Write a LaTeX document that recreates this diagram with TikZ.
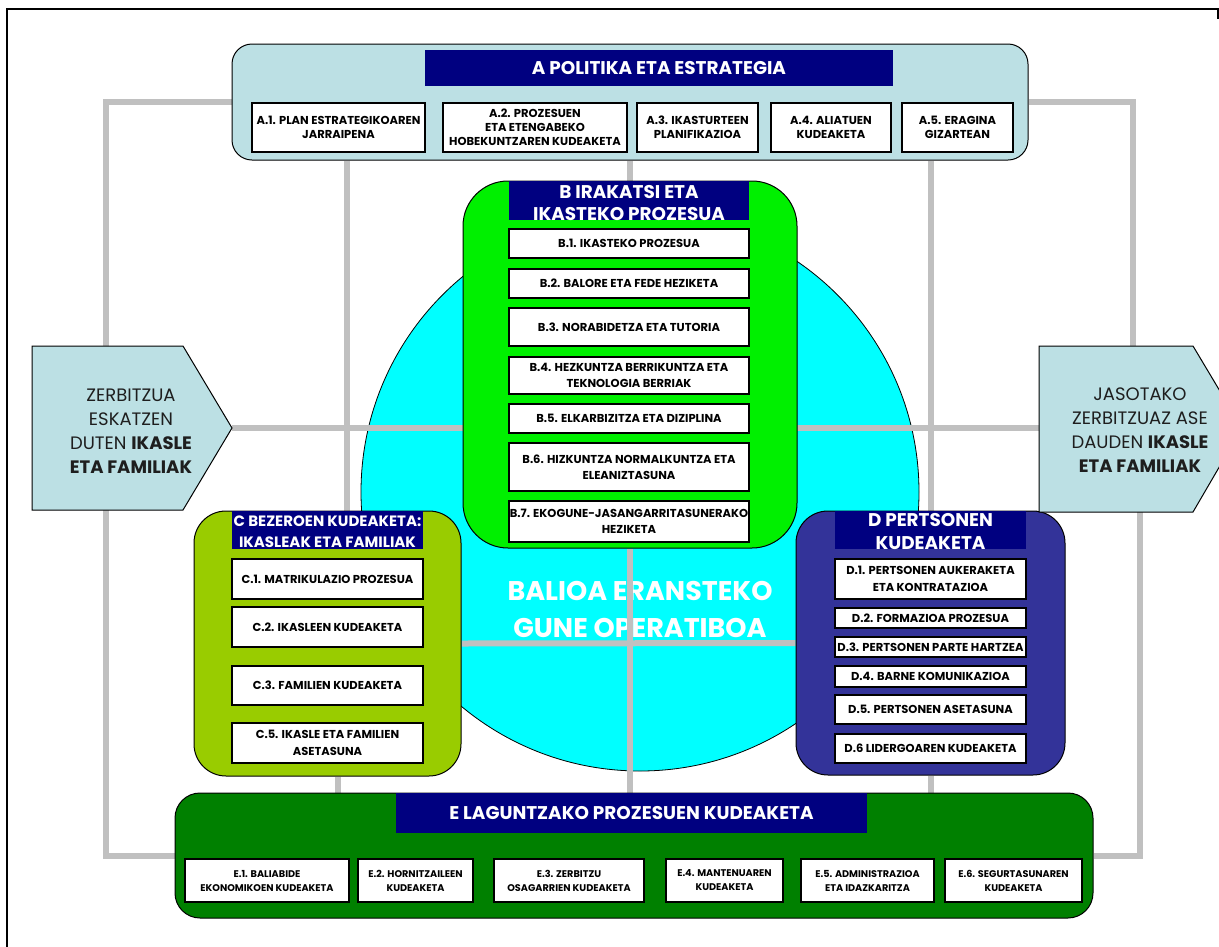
\documentclass[tikz,border=0pt]{standalone}
\usepackage{fontspec}
\setmainfont{Poppins}
\usetikzlibrary{positioning}

\definecolor{barblue}{RGB}{0,0,128}
\definecolor{apanel}{RGB}{188,224,228}
\definecolor{bpanel}{RGB}{0,240,0}
\definecolor{zonecyan}{RGB}{0,255,255}
\definecolor{cpanel}{RGB}{153,204,0}
\definecolor{dpanel}{RGB}{51,51,153}
\definecolor{epanel}{RGB}{0,128,0}
\definecolor{linkgrey}{RGB}{192,192,192}
\definecolor{inkgrey}{RGB}{30,30,30}

\newcommand\titlefont{\bfseries\fontsize{18.4}{22.5}\selectfont}
\newcommand\ctitlefont{\bfseries\fontsize{15}{21}\selectfont}
\newcommand\itemfont{\bfseries\fontsize{11.5}{16.5}\selectfont}
\newcommand\aitemfont{\bfseries\fontsize{11.5}{14}\selectfont}
\newcommand\eitemfont{\bfseries\fontsize{9.7}{14}\selectfont}
\newcommand\sidefont{\fontsize{18}{24}\selectfont}
\newcommand\zonefont{\bfseries\fontsize{27}{37}\selectfont}

\pgfdeclarelayer{back}
\pgfdeclarelayer{lines}
\pgfsetlayers{back,lines,main}

\begin{document}
\begin{tikzpicture}[x=1pt, y=-1pt,
        panel/.style={draw=black, line width=1pt, rounded corners=#1, inner sep=0},
        panel/.default=20,
        bar/.style={fill=barblue, inner sep=0},
        bartext/.style={text=white, font=\titlefont, align=center, inner sep=0},
        item/.style={draw=black, fill=white, line width=1.2pt, inner sep=0, align=center, font=\itemfont},
        sidebox/.style={fill=apanel, draw=black, line width=1pt},
        link/.style={draw=linkgrey, line width=6pt}
    ]
    \clip (0,0) rectangle (1219,946);
    % frame
    \draw[line width=2pt] (7,950) -- (7,9) -- (1218,9) -- (1218,19);

    % A
    \node[panel=20, fill=apanel, minimum width=796, minimum height=116] (Apanel) at (630,102) {};
    \node[bar, minimum width=468, minimum height=36] (Abar) at (659,68) {};
    \node[bartext] (Atext) at (Abar) {A POLITIKA ETA ESTRATEGIA};
    \node[item, font=\aitemfont, minimum width=173, minimum height=49] (A1) at (338.5,127.5) {A.1. PLAN ESTRATEGIKOAREN\\JARRAIPENA};
    \node[item, font=\aitemfont, minimum width=184, minimum height=49] (A2) at (535,127.5) {A.2. PROZESUEN\\ETA ETENGABEKO\\HOBEKUNTZAREN KUDEAKETA};
    \node[item, font=\aitemfont, minimum width=121, minimum height=49] (A3) at (697.5,127.5) {A.3. IKASTURTEEN\\PLANIFIKAZIOA};
    \node[item, font=\aitemfont, minimum width=120, minimum height=49] (A4) at (831,127.5) {A.4. ALIATUEN\\KUDEAKETA};
    \node[item, font=\aitemfont, minimum width=111, minimum height=49] (A5) at (957.5,127.5) {A.5. ERAGINA\\GIZARTEAN};

    % B
    \node[panel=45, fill=bpanel, minimum width=334, minimum height=367] (Bpanel) at (630,364.5) {};
    \node[bar, minimum width=240, minimum height=39] (Bbar) at (629,200.5) {};
    \node[bartext] (Btext) at (629,203) {B IRAKATSI ETA\\IKASTEKO PROZESUA};
    \node[item, minimum width=240, minimum height=29] (B1) at (629,243.5) {B.1. IKASTEKO PROZESUA};
    \node[item, minimum width=240, minimum height=29] (B2) at (629,283.5) {B.2. BALORE ETA FEDE HEZIKETA};
    \node[item, minimum width=240, minimum height=38] (B3) at (629,327) {B.3. NORABIDETZA ETA TUTORIA};
    \node[item, minimum width=240, minimum height=37] (B4) at (629,375.5) {B.4. HEZKUNTZA BERRIKUNTZA ETA\\TEKNOLOGIA BERRIAK};
    \node[item, minimum width=240, minimum height=29] (B5) at (629,418.5) {B.5. ELKARBIZITZA ETA DIZIPLINA};
    \node[item, minimum width=240, minimum height=48] (B6) at (629,467) {B.6. HIZKUNTZA NORMALKUNTZA ETA\\ELEANIZTASUNA};
    \node[item, minimum width=240, minimum height=41] (B7) at (629,521.5) {B.7. EKOGUNE-JASANGARRITASUNERAKO\\HEZIKETA};

    % C
    \node[panel=32, fill=cpanel, minimum width=267, minimum height=265] (Cpanel) at (327.5,643.5) {};
    \node[bar, minimum width=191, minimum height=38] (Cbar) at (327.5,530) {};
    \node[bartext, font=\ctitlefont] (Ctext) at (327.5,531.5) {C BEZEROEN KUDEAKETA:\\IKASLEAK ETA FAMILIAK};
    \node[item, minimum width=191, minimum height=40] (C1) at (327.5,579) {C.1. MATRIKULAZIO PROZESUA};
    \node[item, minimum width=191, minimum height=40] (C2) at (327.5,627) {C.2. IKASLEEN KUDEAKETA};
    \node[item, minimum width=191, minimum height=39] (C3) at (327.5,685.5) {C.3. FAMILIEN KUDEAKETA};
    \node[item, minimum width=191, minimum height=40] (C5) at (327.5,743) {C.5. IKASLE ETA FAMILIEN\\ASETASUNA};

    % D
    \node[panel=32, fill=dpanel, minimum width=269, minimum height=264] (Dpanel) at (930.5,643) {};
    \node[bar, minimum width=191, minimum height=38] (Dbar) at (930.5,530) {};
    \node[bartext] (Dtext) at (930.5,531.5) {D PERTSONEN\\KUDEAKETA};
    \node[item, minimum width=191, minimum height=40] (D1) at (930.5,579) {D.1. PERTSONEN AUKERAKETA\\ETA KONTRATAZIOA};
    \node[item, minimum width=191, minimum height=20] (D2) at (930.5,618) {D.2. FORMAZIOA PROZESUA};
    \node[item, minimum width=191, minimum height=20] (D3) at (930.5,647) {D.3. PERTSONEN PARTE HARTZEA};
    \node[item, minimum width=191, minimum height=21] (D4) at (930.5,676.5) {D.4. BARNE KOMUNIKAZIOA};
    \node[item, minimum width=191, minimum height=29] (D5) at (930.5,709.5) {D.5. PERTSONEN ASETASUNA};
    \node[item, minimum width=191, minimum height=29] (D6) at (930.5,748.5) {D.6 LIDERGOAREN KUDEAKETA};

    % E
    \node[panel=25, fill=epanel, minimum width=918, minimum height=125] (Epanel) at (634,855.5) {};
    \node[bar, minimum width=471, minimum height=40] (Ebar) at (631.5,813) {};
    \node[bartext] (Etext) at (Ebar) {E LAGUNTZAKO PROZESUEN KUDEAKETA};
    \node[item, font=\eitemfont, minimum width=164, minimum height=43] (E1) at (267,880.5) {E.1. BALIABIDE\\EKONOMIKOEN KUDEAKETA};
    \node[item, font=\eitemfont, minimum width=115, minimum height=43] (E2) at (415.5,880.5) {E.2. HORNITZAILEEN\\KUDEAKETA};
    \node[item, font=\eitemfont, minimum width=150, minimum height=43] (E3) at (569,880.5) {E.3. ZERBITZU\\OSAGARRIEN KUDEAKETA};
    \node[item, font=\eitemfont, minimum width=117, minimum height=43] (E4) at (724.5,880.5) {E.4. MANTENUAREN\\KUDEAKETA};
    \node[item, font=\eitemfont, minimum width=133, minimum height=43] (E5) at (867.5,880.5) {E.5. ADMINISTRAZIOA\\ETA IDAZKARITZA};
    \node[item, font=\eitemfont, minimum width=137, minimum height=43] (E6) at (1013.5,880.5) {E.6. SEGURTASUNAREN\\KUDEAKETA};

    % side arrows
    \draw[sidebox] (32,346) -- (183,346) -- (232,428) -- (183,510) -- (32,510) -- cycle;
    \node[align=center, font=\sidefont, text=inkgrey] (zin) at (131,431) {ZERBITZUA\\ESKATZEN\\DUTEN \textbf{IKASLE}\\\textbf{ETA FAMILIAK}};
    \draw[sidebox] (1039,346) -- (1193,346) -- (1242,428) -- (1193,512) -- (1039,512) -- cycle;
    \node[align=center, font=\sidefont, text=inkgrey] (zout) at (1140,430) {JASOTAKO\\ZERBITZUAZ ASE\\DAUDEN \textbf{IKASLE}\\\textbf{ETA FAMILIAK}};
    \coordinate (zinN) at (106,346);
    \coordinate (zinS) at (106,510);
    \coordinate (zinE) at (232,428);
    \coordinate (zoutN) at (1133,346);
    \coordinate (zoutS) at (1140,512);
    \coordinate (zoutW) at (1039,428);

    % operative zone
    \begin{pgfonlayer}{back}
        \node[circle, fill=zonecyan, draw=black, line width=0.8pt, inner sep=0, minimum size=558] (zone) at (640,492) {};
        \node[align=center, font=\zonefont, text=white] (zonetext) at (640,609) {BALIOA ERANSTEKO\\GUNE OPERATIBOA};
    \end{pgfonlayer}

    % grey links
    \begin{pgfonlayer}{lines}
        \draw[link] (Apanel.west) -| (zinN);
        \draw[link] (zinS) |- (Epanel.west);
        \draw[link] (Apanel.east) -| (zoutN);
        \draw[link] (zoutS) |- (Epanel.east);
        \draw[link] (zinE) -- (zoutW);
        \draw[link] (Bpanel.north |- Apanel.south) -- (Bpanel.north);
        \draw[link] (Bpanel.south) -- (Bpanel.south |- Epanel.north);
        \draw[link] ([xshift=19]Cpanel.north |- Apanel.south) -- ([xshift=19]Cpanel.north);
        \draw[link] (Dpanel.north |- Apanel.south) -- (Dpanel.north);
        \draw[link] ([xshift=10]Cpanel.south) -- ([xshift=10]Cpanel.south |- Epanel.north);
        \draw[link] (Dpanel.south) -- (Dpanel.south |- Epanel.north);
        \draw[link] (Cpanel.east) -- (Dpanel.west);
    \end{pgfonlayer}
\end{tikzpicture}
\end{document}
